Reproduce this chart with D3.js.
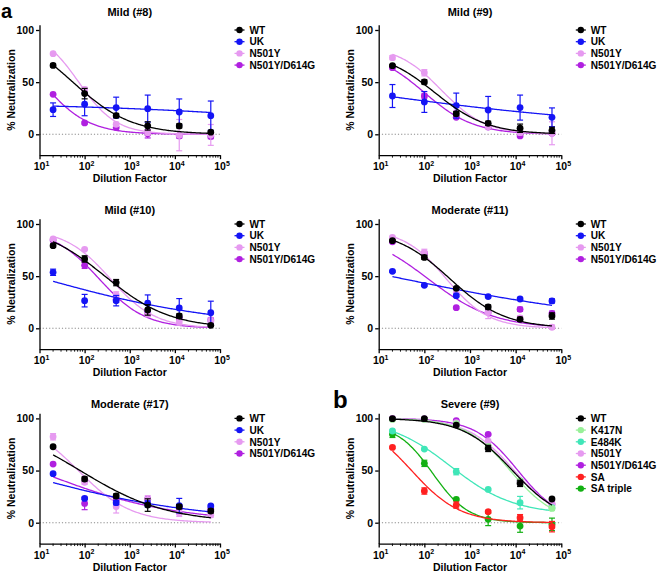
<!DOCTYPE html>
<html><head><meta charset="utf-8">
<script src="https://cdn.jsdelivr.net/npm/d3@7"></script>
<style>
body{margin:0;background:#fff;}
svg text{font-family:"Liberation Sans",Arial,Helvetica,sans-serif;font-weight:bold;fill:#000;}
</style></head><body>
<svg id="chart" width="658" height="572"></svg>
<script>
// ---------- DATA ----------
const dilutions = [20, 100, 500, 2500, 12500, 62500];
const xTickExponents = [1, 2, 3, 4, 5];
const yTickValues = [0, 50, 100];
const panelTitles = ["Mild (#8)", "Mild (#9)", "Mild (#10)", "Moderate (#11)", "Moderate (#17)", "Severe (#9)"];
const panelLetters = ["a", "b"];
const seriesA = ["WT", "UK", "N501Y", "N501Y/D614G"];
const colorsA = ["#000000", "#1414f5", "#e69af0", "#b020e0"];
const seriesB = ["WT", "K417N", "E484K", "N501Y", "N501Y/D614G", "SA", "SA triple"];
const colorsB = ["#000000", "#98f098", "#40e6b8", "#e69af0", "#b020e0", "#ff2020", "#12b012"];

// fit parameters: [bottom, top, logIC50, hill]
// Mild (#8)
const m8_WT = [66, 39, 18, 8, 8, 2],            m8_WT_sd = [1.5, 5, 2, 4, 2, 1],     m8_WT_fit = [0, 100, 1.74, 0.67];
const m8_UK = [23.6, 28.8, 25.6, 24.6, 21.4, 17.9], m8_UK_sd = [6.5, 11, 10, 13, 12.5, 14], m8_UK_fit = [0, 30, 6.92, 0.17];
const m8_N501Y = [77.3, 43, 9.6, 1.6, -0.8, -0.6], m8_N501Y_sd = [1, 2, 2, 2, 15, 10], m8_N501Y_fit = [0, 100, 1.87, 1.05];
const m8_D614G = [38.3, 10.9, 6.4, 0.5, -1.6, -2.2], m8_D614G_sd = [1, 1, 1, 4, 2, 2], m8_D614G_fit = [0, 100, 1.05, 0.85];
// Mild (#9)
const m9_WT = [65.8, 50.2, 19.8, 10.5, 5.8, 3.8], m9_WT_sd = [1, 2, 2, 2, 4, 3], m9_WT_fit = [0, 80, 2.23, 0.75];
const m9_UK = [36.7, 31, 27.5, 23.3, 25.6, 16.3], m9_UK_sd = [11, 10, 12, 13, 12, 9], m9_UK_fit = [0, 100, -0.93, 0.112];
const m9_N501Y = [73.5, 59, 20.8, 7.3, 1.6, 1], m9_N501Y_sd = [2, 3, 2, 1, 2, 11], m9_N501Y_fit = [0, 85, 2.37, 0.9];
const m9_D614G = [63.9, 36.7, 16.3, 7, -1.6, 1], m9_D614G_sd = [1, 2, 1, 1, 1, 2], m9_D614G_fit = [0, 80, 2.0, 0.8];
// Mild (#10)
const m10_WT = [79.2, 66.5, 43.8, 17.6, 11.8, 2.9], m10_WT_sd = [1.5, 3, 3, 5, 2, 1], m10_WT_fit = [0, 100, 2.45, 0.6];
const m10_UK = [53.7, 26.5, 26.5, 24, 19.5, 15], m10_UK_sd = [3, 6, 5, 8, 9, 11], m10_UK_fit = [0, 100, 0.89, 0.21];
const m10_N501Y = [85.6, 75.7, 32, 14, 6, 7], m10_N501Y_sd = [1, 1, 3, 3, 3, 3], m10_N501Y_fit = [0, 95, 2.57, 0.87];
const m10_D614G = [84.7, 60.4, 27.8, 14.7, 10, 8], m10_D614G_sd = [1, 3, 3, 3, 2, 2], m10_D614G_fit = [0, 95, 2.32, 0.85];
// Moderate (#11)
const m11_WT = [84, 68, 38.3, 20.4, 8.6, 11.8], m11_WT_sd = [1, 2, 1, 2, 2, 3], m11_WT_fit = [0, 95, 2.56, 0.72];
const m11_UK = [54.6, 41.2, 31.3, 30.4, 28.1, 26.2], m11_UK_sd = [1, 1, 1, 1, 1, 2], m11_UK_fit = [0, 100, 1.25, 0.155];
const m11_N501Y = [87.2, 72.8, 34, 15.3, 10, 1], m11_N501Y_sd = [1, 3, 3, 6, 2, 2], m11_N501Y_fit = [0, 95, 2.48, 0.93];
const m11_D614G = [83, 72, 19.8, 15.6, 18.2, 14.4], m11_D614G_sd = [1, 1, 1, 2, 2, 2], m11_D614G_fit = [0, 95, 2.08, 0.6];
// Moderate (#17)
const m17_WT = [72.8, 41.9, 25.6, 16.9, 15.3, 11.2], m17_WT_sd = [1, 2, 2, 6, 2, 2], m17_WT_fit = [0, 100, 1.9, 0.45];
const m17_UK = [47, 23.3, 19.2, 18, 16.3, 16], m17_UK_sd = [1, 1, 2, 3, 7, 1], m17_UK_fit = [0, 100, 0.33, 0.21];
const m17_N501Y = [82.4, 38.7, 15.3, 22, 9, 7.3], m17_N501Y_sd = [3, 2, 6, 4, 3, 2], m17_N501Y_fit = [0, 100, 1.86, 0.74];
const m17_D614G = [56.2, 18.5, 21.7, 22.4, 14.7, 12.8], m17_D614G_sd = [1, 6, 2, 2, 2, 2], m17_D614G_fit = [0, 100, 0.94, 0.29];
// Severe (#9)
const s9_WT = [99.7, 99.7, 93.6, 71.2, 37.7, 22.7], s9_WT_sd = [1, 1, 1, 3, 3, 1], s9_WT_fit = [0, 100, 3.93, 0.8];
const s9_K417N = [99, 99, 95, 73, 40, 13.7], s9_K417N_sd = [1, 1, 1, 2, 2, 2], s9_K417N_fit = [0, 100, 3.88, 0.88];
const s9_E484K = [87.9, 70.6, 48.9, 31.9, 19.2, 14.4], s9_E484K_sd = [1, 1, 3, 1, 6, 2], s9_E484K_fit = [8, 100, 2.58, 0.63];
const s9_N501Y = [99.5, 99.5, 96, 78, 40, 17], s9_N501Y_sd = [1, 1, 1, 2, 2, 2], s9_N501Y_fit = [0, 100, 3.97, 0.85];
const s9_D614G = [99.7, 99.5, 97.8, 84.7, 40, 18], s9_D614G_sd = [1, 1, 1, 1, 2, 1], s9_D614G_fit = [0, 100, 4.05, 0.92];
const s9_SA = [72.2, 30.4, 16.9, 10.5, 4.8, -3.8], s9_SA_sd = [1, 3, 3, 1, 3, 5], s9_SA_fit = [0, 100, 1.72, 0.82];
const s9_SAtriple = [84.7, 56.9, 22.4, 3.2, -3.2, -1.6], s9_SAtriple_sd = [3, 3, 1, 6, 6, 6], s9_SAtriple_fit = [0, 95, 2.18, 1.11];

// ---------- BUILD ----------
const panels = [
  {title: panelTitles[0], names: seriesA, colors: colorsA, col: 0, row: 0,
   data: [[m8_WT, m8_WT_sd, m8_WT_fit], [m8_UK, m8_UK_sd, m8_UK_fit], [m8_N501Y, m8_N501Y_sd, m8_N501Y_fit], [m8_D614G, m8_D614G_sd, m8_D614G_fit]]},
  {title: panelTitles[1], names: seriesA, colors: colorsA, col: 1, row: 0,
   data: [[m9_WT, m9_WT_sd, m9_WT_fit], [m9_UK, m9_UK_sd, m9_UK_fit], [m9_N501Y, m9_N501Y_sd, m9_N501Y_fit], [m9_D614G, m9_D614G_sd, m9_D614G_fit]]},
  {title: panelTitles[2], names: seriesA, colors: colorsA, col: 0, row: 1,
   data: [[m10_WT, m10_WT_sd, m10_WT_fit], [m10_UK, m10_UK_sd, m10_UK_fit], [m10_N501Y, m10_N501Y_sd, m10_N501Y_fit], [m10_D614G, m10_D614G_sd, m10_D614G_fit]]},
  {title: panelTitles[3], names: seriesA, colors: colorsA, col: 1, row: 1,
   data: [[m11_WT, m11_WT_sd, m11_WT_fit], [m11_UK, m11_UK_sd, m11_UK_fit], [m11_N501Y, m11_N501Y_sd, m11_N501Y_fit], [m11_D614G, m11_D614G_sd, m11_D614G_fit]]},
  {title: panelTitles[4], names: seriesA, colors: colorsA, col: 0, row: 2,
   data: [[m17_WT, m17_WT_sd, m17_WT_fit], [m17_UK, m17_UK_sd, m17_UK_fit], [m17_N501Y, m17_N501Y_sd, m17_N501Y_fit], [m17_D614G, m17_D614G_sd, m17_D614G_fit]]},
  {title: panelTitles[5], names: seriesB, colors: colorsB, col: 1, row: 2,
   data: [[s9_WT, s9_WT_sd, s9_WT_fit], [s9_K417N, s9_K417N_sd, s9_K417N_fit], [s9_E484K, s9_E484K_sd, s9_E484K_fit],
          [s9_N501Y, s9_N501Y_sd, s9_N501Y_fit], [s9_D614G, s9_D614G_sd, s9_D614G_fit], [s9_SA, s9_SA_sd, s9_SA_fit], [s9_SAtriple, s9_SAtriple_sd, s9_SAtriple_fit]]}
];

// layout
const colX = [[39.5, 220], [378.7, 561.3]];
const rowZero = [134.3, 328.3, 522.7];
const rowTitle = [15.6, 214, 408.3];
const pxPerUnit = 1.043;
const svg = d3.select("#chart");

function fitValue(p, logx) {
  const [bottom, top, logIC, hill] = p;
  return bottom + (top - bottom) / (1 + Math.pow(10, (logx - logIC) * hill));
}

panels.forEach(p => {
  const [x0, x1] = colX[p.col];
  const z = rowZero[p.row];
  const x = d3.scaleLog().domain([10, 1e5]).range([x0, x1]);
  const y = d3.scaleLinear().domain([-20, 105]).range([z + 20 * pxPerUnit, z - 105 * pxPerUnit]);
  const g = svg.append("g");
  const fs = 10.5;

  // title
  g.append("text").attr("x", (x0 + x1) / 2).attr("y", rowTitle[p.row])
    .attr("text-anchor", "middle").style("font-size", "11px").text(p.title);

  // zero dotted line
  g.append("line").attr("x1", x0).attr("x2", x1).attr("y1", y(0)).attr("y2", y(0))
    .attr("stroke", "#8a8a8a").attr("stroke-width", 1.1).attr("stroke-dasharray", "1.2,2");

  // y axis
  const ya = g.append("g").attr("transform", `translate(${x0},0)`)
    .call(d3.axisLeft(y).tickValues(yTickValues).tickSize(3.5).tickSizeOuter(0).tickPadding(2));
  ya.select(".domain").attr("stroke-width", 1.3);
  ya.selectAll(".tick line").attr("stroke-width", 1.3);
  ya.selectAll("text").style("font-size", fs + "px").attr("font-family", null);

  // x axis
  const yb = y(-20);
  const xa = g.append("g").attr("transform", `translate(0,${yb})`)
    .call(d3.axisBottom(x).tickValues(xTickExponents.map(e => Math.pow(10, e))).tickSize(4).tickSizeOuter(0).tickFormat(""));
  xa.select(".domain").attr("stroke-width", 1.3);
  xa.selectAll(".tick line").attr("stroke-width", 1.3);
  const minor = x.ticks().filter(v => Math.abs(Math.log10(v) - Math.round(Math.log10(v))) > 1e-6);
  xa.selectAll(".minor").data(minor).enter().append("line")
    .attr("x1", d => x(d)).attr("x2", d => x(d)).attr("y1", 0).attr("y2", 2.5)
    .attr("stroke", "#000").attr("stroke-width", 0.9);
  xTickExponents.forEach(e => {
    const t = g.append("text").attr("x", x(Math.pow(10, e)) + 2).attr("y", yb + 15)
      .attr("text-anchor", "middle").style("font-size", fs + "px");
    t.append("tspan").text("10");
    t.append("tspan").attr("dy", -4.5).style("font-size", "7px").text(String(e));
  });

  // axis titles
  g.append("text").attr("x", (x0 + x1) / 2).attr("y", yb + 27.3).attr("text-anchor", "middle")
    .style("font-size", fs + "px").text("Dilution Factor");
  const cy = (y(-20) + y(105)) / 2;
  g.append("text").attr("transform", `translate(${x0 - 24.5},${cy}) rotate(-90)`)
    .attr("text-anchor", "middle").style("font-size", fs + "px").text("% Neutralization");

  // series (drawn in reverse so the first series is on top)
  const lg = Math.log10(dilutions[0]), hg = Math.log10(dilutions[dilutions.length - 1]);
  const samples = d3.range(0, 121).map(i => lg + (hg - lg) * i / 120);
  const line = d3.line().x(d => x(Math.pow(10, d[0]))).y(d => y(d[1])).curve(d3.curveBasis);
  const order = d3.range(p.data.length).reverse();
  order.forEach(si => {
    const [vals, sds, fit] = p.data[si];
    const col = p.colors[si];
    const sg = g.append("g");
    sg.append("path").attr("d", line(samples.map(s => [s, fitValue(fit, s)])))
      .attr("fill", "none").attr("stroke", col).attr("stroke-width", 1.3);
    vals.forEach((v, i) => {
      const cx = x(dilutions[i]);
      const sd = sds[i];
      if (sd > 0) {
        const ya1 = y(v - sd), ya2 = y(v + sd);
        sg.append("line").attr("x1", cx).attr("x2", cx).attr("y1", ya1).attr("y2", ya2).attr("stroke", col).attr("stroke-width", 1.2);
        [ya1, ya2].forEach(yy => sg.append("line").attr("x1", cx - 3).attr("x2", cx + 3).attr("y1", yy).attr("y2", yy).attr("stroke", col).attr("stroke-width", 1.2));
      }
    });
    vals.forEach((v, i) => {
      sg.append("circle").attr("cx", x(dilutions[i])).attr("cy", y(v)).attr("r", 3.4).attr("fill", col);
    });
  });

  // legend
  const lx = x1 + 19.5;
  p.names.forEach((n, i) => {
    const ly = y(100) + i * 11.7;
    g.append("line").attr("x1", lx - 5).attr("x2", lx + 5).attr("y1", ly).attr("y2", ly).attr("stroke", p.colors[i]).attr("stroke-width", 1.3);
    g.append("circle").attr("cx", lx).attr("cy", ly).attr("r", 3.2).attr("fill", p.colors[i]);
    g.append("text").attr("x", lx + 10).attr("y", ly + 3.7).style("font-size", "10.1px").text(n);
  });
});

// panel letters
svg.append("text").attr("x", 1).attr("y", 18.3).style("font-size", "20px").text(panelLetters[0]);
svg.append("text").attr("x", 333).attr("y", 408).style("font-size", "24px").text(panelLetters[1]);
</script>
</body></html>
